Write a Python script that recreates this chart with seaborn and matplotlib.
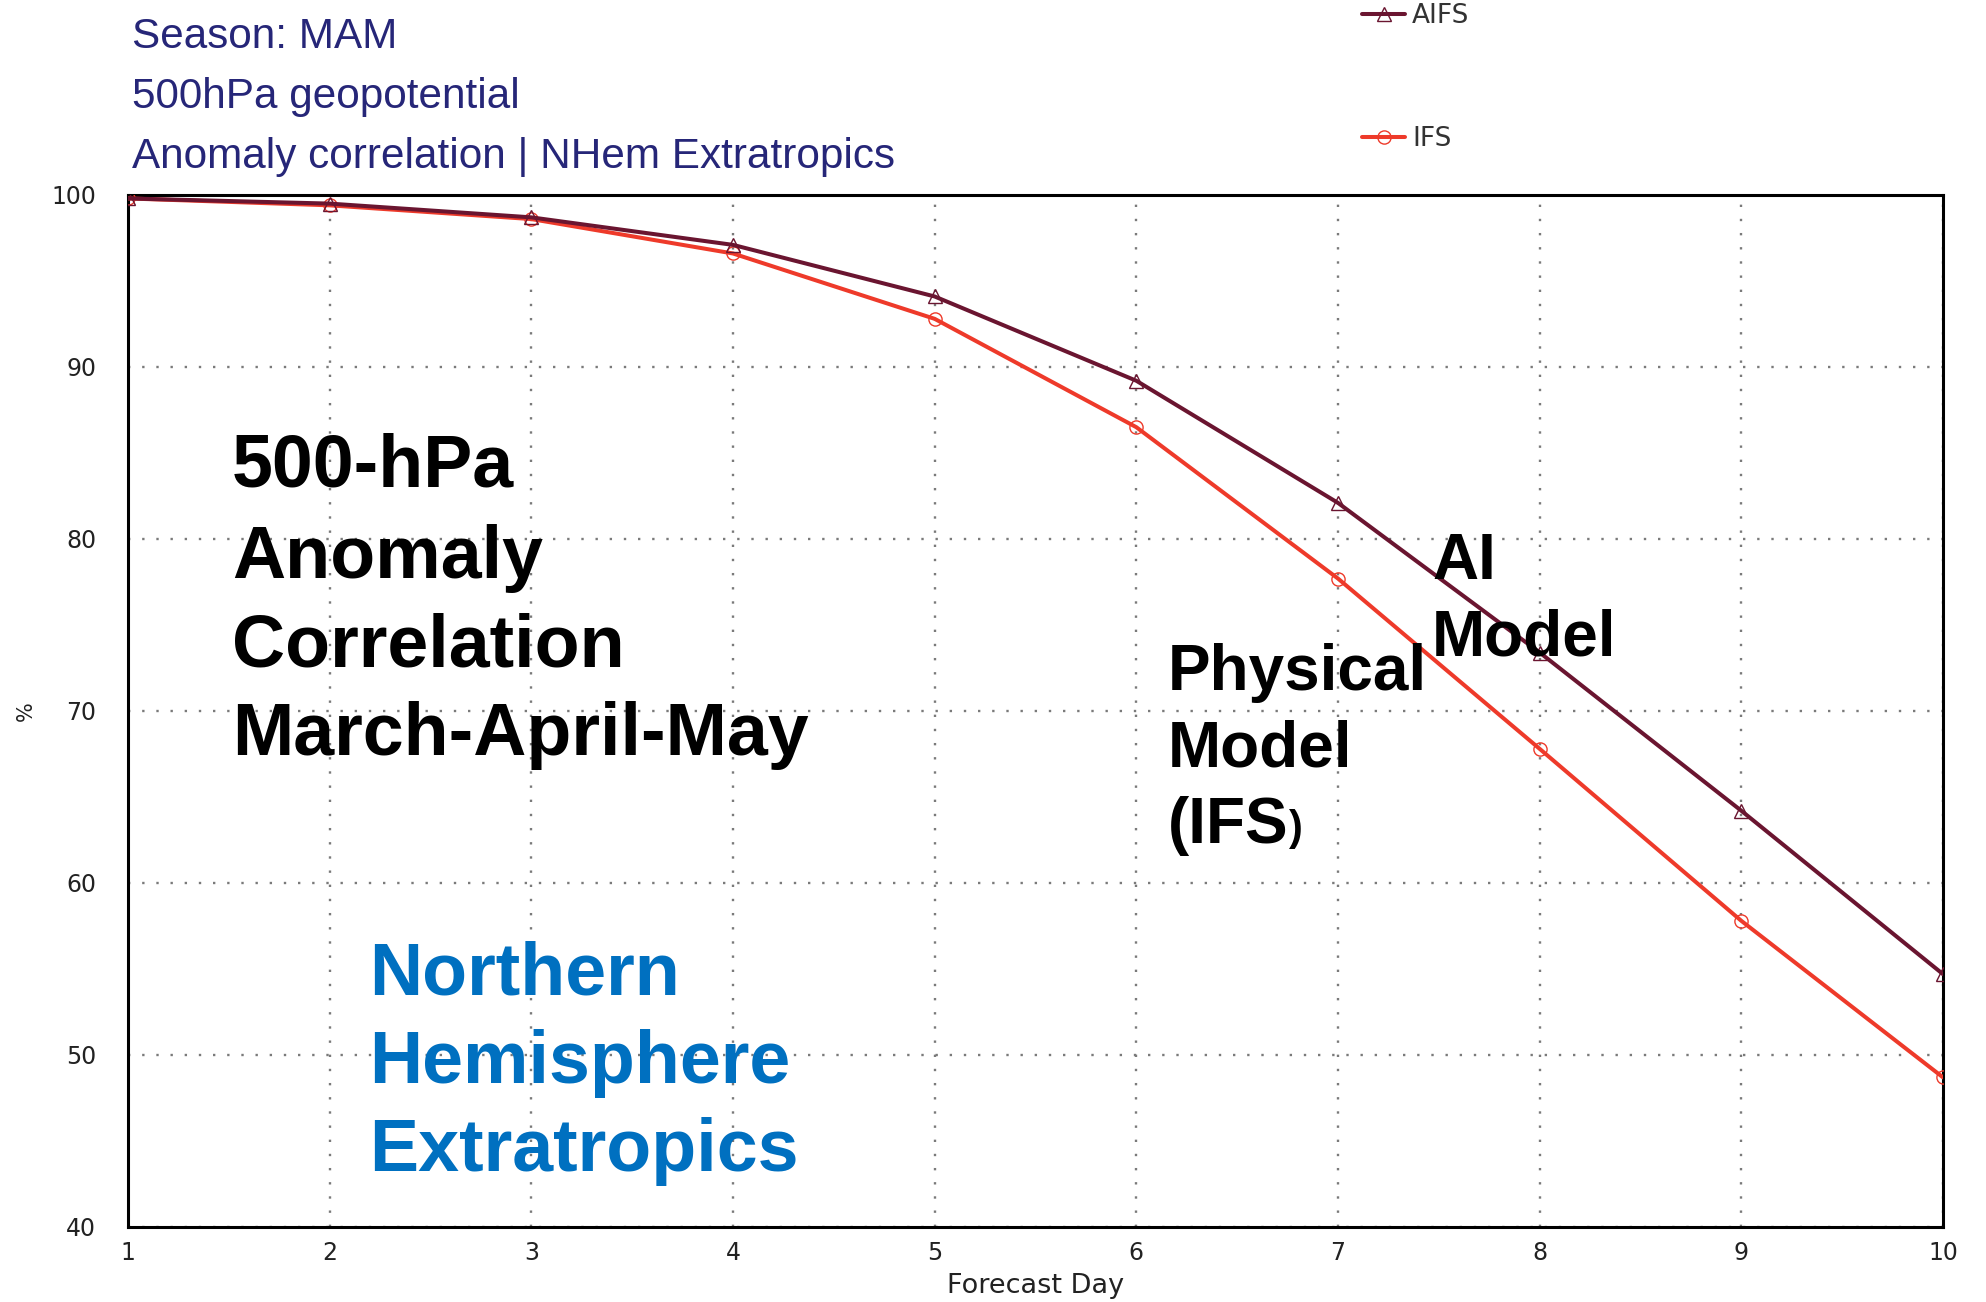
import numpy as np
import pandas as pd
import matplotlib
matplotlib.use("Agg")
import matplotlib.pyplot as plt
import seaborn as sns

# Forecast-day skill scores (%), 500 hPa anomaly correlation, MAM, NH extratropics
days = [1, 2, 3, 4, 5, 6, 7, 8, 9, 10]
aifs_acc = [99.8, 99.5, 98.7, 97.1, 94.1, 89.2, 82.1, 73.4, 64.2, 54.7]
ifs_acc = [99.8, 99.4, 98.6, 96.6, 92.8, 86.5, 77.7, 67.8, 57.8, 48.7]
model_names = ["AIFS", "IFS"]
y_ticks = [40, 50, 60, 70, 80, 90, 100]

header_lines = ["Season: MAM", "500hPa geopotential",
                "Anomaly correlation | NHem Extratropics"]

df = pd.DataFrame({
    "day": days * 2,
    "acc": aifs_acc + ifs_acc,
    "model": [model_names[0]] * len(days) + [model_names[1]] * len(days),
})

sns.set_theme(style="white")
plt.rcParams["font.family"] = ["DejaVu Sans"]

W, H = 1986, 1302
fig = plt.figure(figsize=(W / 100, H / 100), dpi=100)
ax = fig.add_axes([128 / W, 1 - 1227 / H, (1943 - 128) / W, (1227 - 195) / H])

palette = {"AIFS": "#6a1530", "IFS": "#ee3a2a"}
markers = {"AIFS": "^", "IFS": "o"}

for name in model_names:
    sub = df[df["model"] == name]
    sns.lineplot(data=sub, x="day", y="acc", ax=ax, color=palette[name],
                 linewidth=2.9, marker=markers[name], markersize=9.5,
                 markerfacecolor="none", markeredgecolor=palette[name],
                 markeredgewidth=1.0, label=name, zorder=5 if name == "AIFS" else 4)

ax.set_xlim(1, 10)
ax.set_ylim(40, 100)
ax.set_xticks(days)
ax.set_yticks(y_ticks)
ax.grid(True, linestyle=(0, (1, 5)), color="#7a7a7a", linewidth=1.7)
for sp in ax.spines.values():
    sp.set_color("black")
    sp.set_linewidth(2.2)
ax.tick_params(axis="both", direction="out", width=2.0, color="black",
               labelsize=17, labelcolor="#222222")
ax.tick_params(axis="y", length=11, pad=12)
ax.tick_params(axis="x", length=7, pad=3)
ax.set_xlabel("Forecast Day", fontsize=19.5, color="#222222", labelpad=6)
ax.set_ylabel("%", fontsize=15, color="#222222")
ax.yaxis.set_label_coords(-0.051, 0.5)

# Legend entries stacked far apart at the top
handles, labels = ax.get_legend_handles_labels()
ax.get_legend().remove()
fig.legend(handles, labels, loc="upper left", bbox_to_anchor=(1338 / W, 1 + 21 / H),
           frameon=False, fontsize=19, labelspacing=3.7, handlelength=1.65,
           handletextpad=0.25, labelcolor="#333333")

# Header lines
for txt, yc in zip(header_lines, [37, 97, 157]):
    fig.text(132 / W, 1 - yc / H, txt, fontsize=30.4, color="#262678",
             family="Liberation Sans", va="center", ha="left")

# Annotation blocks
bold = dict(family="Liberation Sans", fontweight="bold", ha="left", va="center")
blocks = [
    (["500-hPa", "Anomaly", "Correlation", "March-April-May"], 232, [467, 559, 647, 736], 53, "black"),
    (["Northern", "Hemisphere", "Extratropics"], 369, [975, 1064, 1152], 53, "#0070c0"),
    (["Physical", "Model", "(IFS"], 1168, [673, 750, 826], 46, "black"),
    (["AI", "Model"], 1432, [562, 638], 46, "black"),
]
ifs_label = None
for lines, x0, ys, fs, col in blocks:
    for line, yc in zip(lines, ys):
        t = fig.text(x0 / W, 1 - yc / H, line, fontsize=fs, color=col, **bold)
        if line == "(IFS":
            ifs_label = t

# smaller closing parenthesis after "(IFS"
ax.annotate(")", xy=(1.0, 0.12), xycoords=ifs_label, ha="left", va="bottom",
            fontsize=30, fontweight="bold", family="Liberation Sans", color="black",
            annotation_clip=False)

fig.savefig("out.png", dpi=100, facecolor="white")
